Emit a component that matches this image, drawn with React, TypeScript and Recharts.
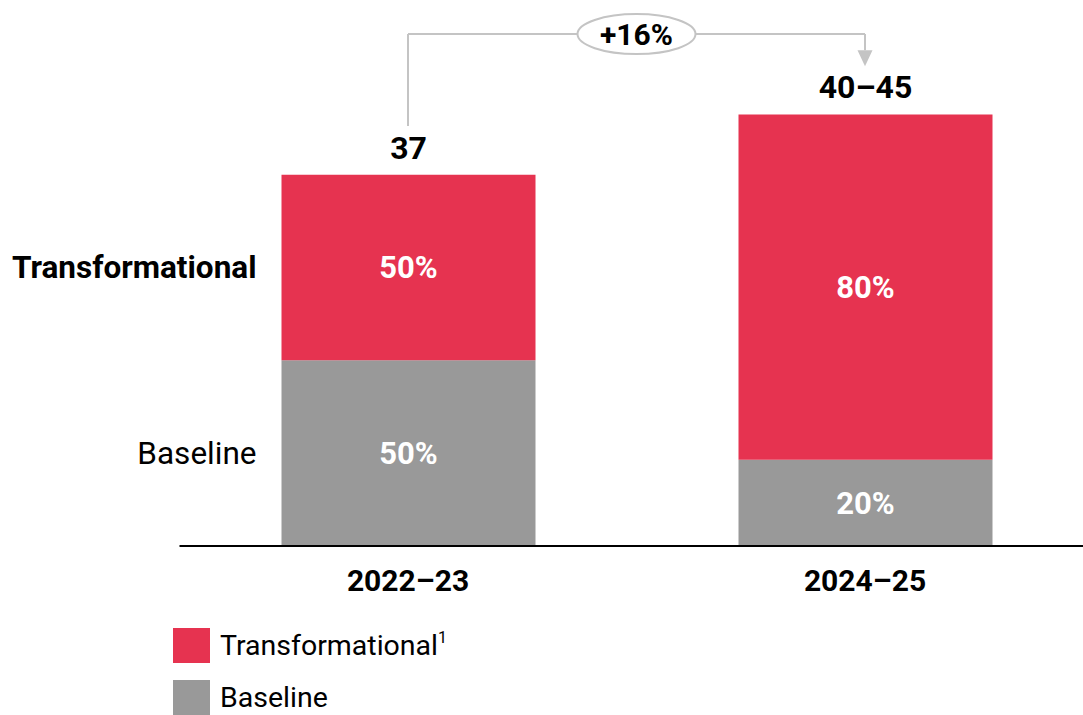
import React from 'react';
import { BarChart, Bar, XAxis, YAxis, LabelList, ReferenceLine } from 'recharts';

const categories = ['2022–23', '2024–25'];
const baselineValues = [18.5, 8.6];
const transformationalValues = [18.5, 34.4];
const baselineShares = [50, 20];
const transformationalShares = [50, 80];
const totalLabels = ['37', '40–45'];
const seriesNames = ['Transformational', 'Baseline'];
const legendNames = ['Transformational', 'Baseline'];
const growthLabel = '+16%';

// annotation levels (data units)
const connectorTop = 51.0;
const connectorStart = 41.85;
const arrowBase = 49.4;
const arrowTip = 47.8;

const RED = '#E63350';
const GRAY = '#999999';
const LINE = '#C4C4C4';
const FONT = 'Roboto, "Noto Sans", sans-serif';

const data = categories.map((c, i) => ({
  category: c,
  baseline: baselineValues[i],
  transformational: transformationalValues[i],
  baselineShare: baselineShares[i],
  transformationalShare: transformationalShares[i],
  total: totalLabels[i],
}));

const getBox = (p: any) => {
  const vb = p.viewBox ?? p;
  return { x: Number(vb.x ?? p.x), y: Number(vb.y ?? p.y), width: Number(vb.width ?? p.width), height: Number(vb.height ?? p.height) };
};

const shareLabel = (field: 'baselineShare' | 'transformationalShare') => (p: any) => {
  const { x, y, width, height } = getBox(p);
  const idx = p.index ?? 0;
  const v = field === 'baselineShare' ? baselineShares[idx] : transformationalShares[idx];
  return (
    <text x={x + width / 2} y={y + height / 2 + 11} textAnchor="middle" fill="#fff" fontSize={31} fontWeight={700} fontFamily={FONT}>
      {v}%
    </text>
  );
};

const sideLabel = (name: string, bold: boolean) => (p: any) => {
  const idx = p.index ?? 0;
  if (idx !== 0) return null;
  const { x, y, height } = getBox(p);
  return (
    <text x={x - 25} y={y + height / 2 + 11} textAnchor="end" fill="#000" fontSize={31.5} fontWeight={bold ? 700 : 400} fontFamily={FONT}>
      {name}
    </text>
  );
};

const totalLabel = (p: any) => {
  const { x, y, width } = getBox(p);
  const idx = p.index ?? 0;
  return (
    <text x={x + width / 2} y={y - 16} textAnchor="middle" fill="#000" fontSize={32} fontWeight={700} fontFamily={FONT}>
      {totalLabels[idx]}
    </text>
  );
};

const XTick = (p: any) => (
  <text x={p.x} y={p.y + 45} textAnchor="middle" fill="#000" fontSize={30} fontWeight={700} fontFamily={FONT}>
    {p.payload.value}
  </text>
);

const Pill = (p: any) => {
  const { x, y, width } = getBox(p);
  const cx = x + width / 2;
  return (
    <g>
      <ellipse cx={cx} cy={y} rx={59} ry={20} fill="#fff" stroke={LINE} strokeWidth={2} />
      <text x={cx} y={y + 11} textAnchor="middle" fill="#000" fontSize={30} fontWeight={700} fontFamily={FONT}>
        {growthLabel}
      </text>
    </g>
  );
};

const Arrow = (p: any) => {
  const { x, y, height } = getBox(p);
  return <polygon points={`${x - 7.5},${y} ${x + 7.5},${y} ${x},${y + height}`} fill={LINE} />;
};

export default function App() {
  return (
    <div style={{ position: 'absolute', left: 0, top: 0, width: 1083, height: 715, overflow: 'hidden', background: '#fff', fontFamily: FONT }}>
      <BarChart
        width={1100}
        height={715}
        data={data}
        margin={{ top: 4, right: 6.5, bottom: 139, left: 179.5 }}
        barSize={254}
      >
        <XAxis
          dataKey="category"
          height={30}
          tickLine={false}
          tickSize={0}
          tickMargin={0}
          axisLine={{ stroke: '#000', strokeWidth: 2 }}
          tick={<XTick />}
          interval={0}
        />
        <YAxis hide domain={[0, 54]} type="number" allowDataOverflow />
        <Bar dataKey="baseline" stackId="a" fill={GRAY} isAnimationActive={false}>
          <LabelList content={shareLabel('baselineShare')} />
          <LabelList content={sideLabel(seriesNames[1], false)} />
        </Bar>
        <Bar dataKey="transformational" stackId="a" fill={RED} isAnimationActive={false}>
          <LabelList content={shareLabel('transformationalShare')} />
          <LabelList content={sideLabel(seriesNames[0], true)} />
          <LabelList content={totalLabel} />
        </Bar>
        <ReferenceLine
          segment={[{ x: categories[0], y: connectorStart }, { x: categories[0], y: connectorTop }]}
          stroke={LINE}
          strokeWidth={2}
          ifOverflow="visible"
        />
        <ReferenceLine
          segment={[{ x: categories[0], y: connectorTop }, { x: categories[1], y: connectorTop }]}
          stroke={LINE}
          strokeWidth={2}
          ifOverflow="visible"
          label={(p: any) => <Pill {...p} />}
        />
        <ReferenceLine
          segment={[{ x: categories[1], y: connectorTop }, { x: categories[1], y: arrowBase }]}
          stroke={LINE}
          strokeWidth={2}
          ifOverflow="visible"
        />
        <ReferenceLine
          segment={[{ x: categories[1], y: arrowBase }, { x: categories[1], y: arrowTip }]}
          stroke="none"
          strokeWidth={0}
          ifOverflow="visible"
          label={(p: any) => <Arrow {...p} />}
        />
      </BarChart>
      {legendNames.map((name, i) => (
        <div key={name} style={{ position: 'absolute', left: 173, top: 628 + i * 52, height: 35, display: 'flex', alignItems: 'center' }}>
          <div style={{ width: 37, height: 35, background: i === 0 ? RED : GRAY }} />
          <span style={{ marginLeft: 10, fontSize: 28.5, color: '#000', fontFamily: FONT, lineHeight: '35px' }}>
            {name}
            {i === 0 ? <sup style={{ fontSize: 16, verticalAlign: 'top', lineHeight: '20px' }}>1</sup> : null}
          </span>
        </div>
      ))}
    </div>
  );
}
